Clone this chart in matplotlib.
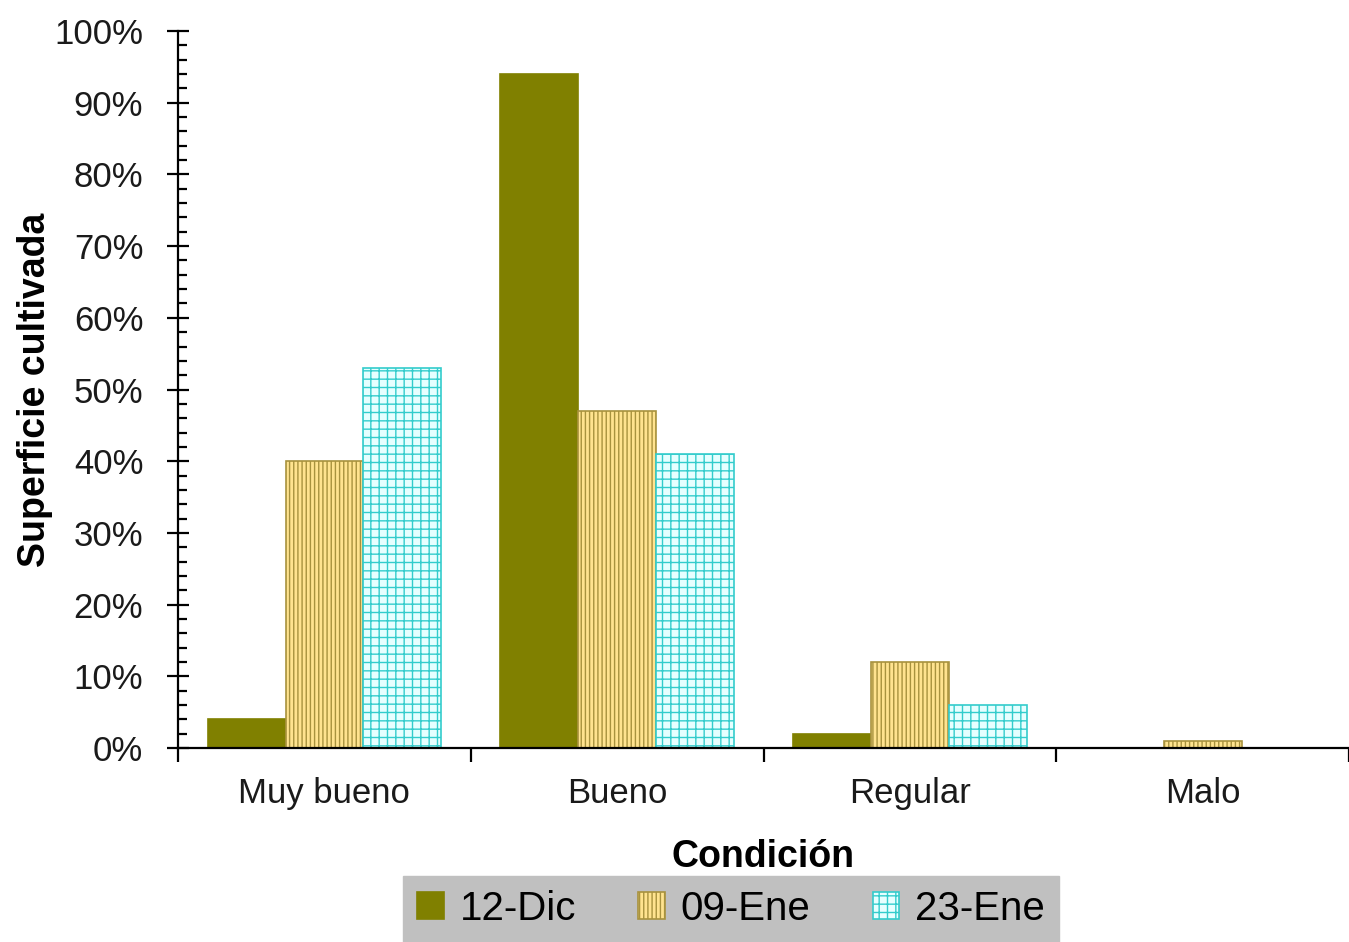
import matplotlib
matplotlib.use("Agg")
import matplotlib.pyplot as plt
import numpy as np
from matplotlib.ticker import MultipleLocator, FixedLocator, NullFormatter, PercentFormatter

plt.rcParams["font.family"] = ["Liberation Sans", "DejaVu Sans"]
plt.rcParams["hatch.linewidth"] = 1.0

# data (percent of cultivated area)
categories = ["Muy bueno", "Bueno", "Regular", "Malo"]
series_names = ["12-Dic", "09-Ene", "23-Ene"]
dic12 = [4, 94, 2, 0]
ene09 = [40, 47, 12, 1]
ene23 = [53, 41, 6, 0]

styles = [
    dict(color="#808000", edgecolor="#808000", hatch=None),
    dict(color="#FFE38F", edgecolor="#A8923E", hatch="||||"),
    dict(color="#E6FFFF", edgecolor="#33CCCC", hatch="++"),
]

fig = plt.figure(figsize=(13.49, 9.42), dpi=100)
ax = fig.add_axes([0.132, 0.206, 0.868, 0.761])

x = np.arange(len(categories))
width = 0.266
for i, (vals, name, st) in enumerate(zip([dic12, ene09, ene23], series_names, styles)):
    ax.bar(x + (i - 1) * width, vals, width, label=name,
           color=st["color"], edgecolor=st["edgecolor"], hatch=st["hatch"],
           linewidth=1.2)

ax.set_xlim(-0.5, 3.5)
ax.set_ylim(0, 100)
for s in ["top", "right"]:
    ax.spines[s].set_visible(False)
for s in ["left", "bottom"]:
    ax.spines[s].set_linewidth(1.6)

# y axis: major every 10 %, minor every 2 %
ax.yaxis.set_major_locator(MultipleLocator(10))
ax.yaxis.set_minor_locator(MultipleLocator(2))
ax.yaxis.set_major_formatter(PercentFormatter(decimals=0))
ax.tick_params(axis="y", which="major", direction="inout", length=16, width=1.6,
               labelsize=25, pad=17, labelcolor="#1a1a1a")
ax.tick_params(axis="y", which="minor", direction="in", length=6.5, width=1.6)

# x axis: ticks at category boundaries, labels centred
ax.xaxis.set_major_locator(FixedLocator(np.arange(-0.5, 3.6, 1.0)))
ax.xaxis.set_major_formatter(NullFormatter())
ax.xaxis.set_minor_locator(FixedLocator(x))
ax.set_xticks(x, categories, minor=True)
ax.tick_params(axis="x", which="major", direction="out", length=10, width=1.6)
ax.tick_params(axis="x", which="minor", length=0, labelsize=25, pad=21,
               labelcolor="#1a1a1a")

ax.set_xlabel("Condición", fontsize=27, fontweight="bold", labelpad=21)
ax.set_ylabel("Superficie cultivada", fontsize=27, fontweight="bold", labelpad=1)

leg = fig.legend(loc="lower center", bbox_to_anchor=(0.542, 0.0), ncol=3,
                 fontsize=29, frameon=True, fancybox=False,
                 handlelength=0.65, handleheight=0.65, handletextpad=0.4,
                 columnspacing=1.55, borderpad=0.35, borderaxespad=0.0)
leg.get_frame().set_facecolor("#C0C0C0")
leg.get_frame().set_edgecolor("#C0C0C0")
leg.get_frame().set_alpha(1.0)

fig.savefig("out.png", dpi=100, facecolor="white")
